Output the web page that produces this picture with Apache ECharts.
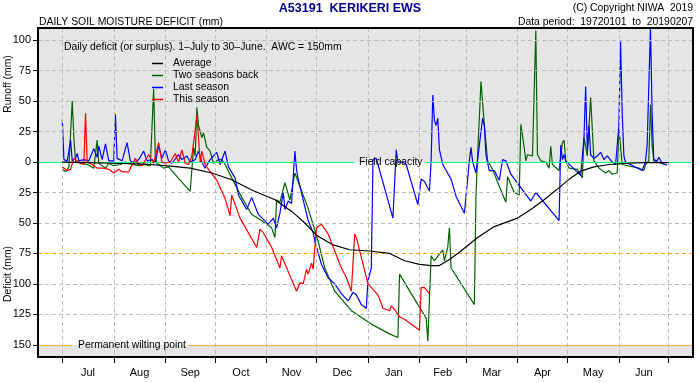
<!DOCTYPE html>
<html><head><meta charset="utf-8">
<script src="https://cdn.jsdelivr.net/npm/echarts@6/dist/echarts.min.js"></script>
<style>html,body{margin:0;padding:0;background:#fff}#c{width:700px;height:383px}</style>
</head><body><div id="c"></div>
<script>
// ---- data (day index from 1 July; mm deficit positive, runoff negative) ----
const monthLabels = ['Jul','Aug','Sep','Oct','Nov','Dec','Jan','Feb','Mar','Apr','May','Jun'];
const monthStarts = [0,31,62,92,123,153,184,215,243,274,304,335,365];
const monthMids = [15.5,46.5,77,107.5,138,168.5,199.5,229,258.5,289,319.5,350];
const yTicks = [-100,-75,-50,-25,0,25,50,75,100,125,150];
const gridLevels = [-100,-75,-50,-25,25,50,100,125];

const average = [[0,0],[15,0.5],[30,1],[45,1.5],[52,2],[62,3],[77,5],[90,9],[102,14.5],[114,23],[128,31],[139,41.5],[146,50],[153,60],[163,68],[173,72],[185,73],[197,75],[206,81],[215,84],[222,85],[227,85],[233,80],[240,73],[250,62],[260,53],[274,46],[282,39],[290,31],[300,20],[306,13],[312,7.5],[320,4],[329,2],[340,1],[350,0.5],[365,0.5]];

const twoSeasonsBack = [[0,6],[2,8],[4,4],[6,-50],[7,-20],[8,0],[11,1],[15,2],[19,5],[21,-18],[22,1],[26,5],[28,1],[31,3],[35,2],[38,0],[42,2],[46,3],[49,2],[53,3],[55,-60],[56,-5],[57,1],[61,5],[64,4],[66,7],[69,12],[77,24],[79,-12],[80,-5],[81,-45],[82,-30],[84,-20],[85,-24],[87,-12],[89,-9],[91,1],[94,-2],[96,-2],[98,2],[102,13],[108,29],[114,43],[120,48],[126,54],[128,62],[129,31],[131,33],[134,17],[137,31],[140,9],[148,38],[154,65],[158,87],[164,106],[174,122],[186,133],[197,141],[202,144],[203,92],[214,117],[219,128],[220,147],[222,77],[224,81],[229,72],[230,81],[232,70],[233,54],[234,87],[248,117],[249,27],[250,-6],[252,-66],[254,-31],[256,-1],[259,6],[263,20],[267,33],[268,12],[272,25],[275,27],[276,-31],[278,-12],[279,-1],[280,-6],[283,-5],[285,-108],[286,-6],[288,-1],[291,0],[293,5],[294,-13],[295,2],[299,7],[301,-16],[302,-18],[303,-1],[305,5],[310,6],[313,13],[314,-20],[316,-5],[318,-53],[320,-1],[323,5],[327,9],[329,7],[331,10],[334,9],[335,-28],[337,2],[347,5],[350,7],[351,2],[353,-1],[354,-47],[355,-14],[356,-1],[363,2]];

const lastSeason = [[0,-35],[1,-2],[3,-1],[5,-18],[6,-1],[8,-3],[9,-7],[10,-1],[13,-2],[16,-1],[19,-11],[21,-4],[22,-13],[24,-2],[26,-15],[28,-1],[31,-1],[32,-39],[33,-3],[36,-1],[39,-16],[41,-1],[43,1],[46,-2],[49,-9],[51,-1],[54,-2],[56,0],[58,-13],[60,-3],[62,-10],[64,-1],[66,1],[70,-6],[72,-2],[75,-5],[77,0],[80,-2],[82,-9],[84,0],[86,5],[89,-2],[91,-5],[93,-8],[95,2],[98,-9],[100,4],[104,13],[106,27],[111,39],[114,29],[118,43],[124,51],[127,46],[129,54],[131,42],[133,25],[134,39],[136,32],[138,34],[140,-9],[141,6],[142,14],[145,31],[148,48],[151,58],[152,65],[156,84],[160,95],[164,100],[168,108],[172,114],[175,107],[177,109],[180,117],[183,120],[184,97],[186,87],[187,-2],[189,-3],[199,46],[201,-10],[202,0],[205,0],[207,2],[214,35],[216,14],[218,16],[221,24],[222,-1],[223,-55],[224,-34],[225,-30],[226,-36],[227,-10],[229,2],[234,14],[237,28],[242,42],[245,-1],[246,-12],[247,0],[249,9],[253,-36],[254,-30],[255,-6],[257,7],[260,7],[263,15],[265,-2],[267,-1],[270,10],[282,32],[285,25],[299,48],[300,-14],[301,-2],[302,-6],[303,-1],[312,11],[314,-20],[315,-62],[316,-10],[317,-30],[318,-6],[320,-3],[322,-5],[324,-8],[326,-2],[328,-5],[331,0],[333,2],[335,-30],[336,-99],[337,-40],[338,-5],[339,0],[349,7],[351,0],[352,-14],[354,-110],[355,-40],[356,-2],[358,-1],[359,-4],[361,1],[364,2.5]];

const thisSeason = [[0,4],[3,7],[5,6],[7,-3],[9,-1],[11,1],[13,2],[14,-40],[15,0],[18,2],[21,5],[25,5],[28,6],[31,9],[34,6],[36,8],[40,8],[44,-3],[46,2],[48,3],[52,-6],[55,1],[58,-16],[60,0],[62,1],[65,0],[68,-7],[70,0],[72,-10],[74,1],[76,2],[78,-5],[80,-26],[81,-39],[82,-20],[83,0],[84,-9],[86,2],[88,6],[93,15],[98,30],[101,44],[102,27],[107,46],[117,70],[119,55],[121,58],[126,70],[131,87],[132,77],[141,106],[143,99],[145,100],[147,88],[148,92],[150,83],[151,88],[153,54],[156,51],[160,59],[168,87],[171,95],[174,106],[176,59],[177,62],[184,100],[190,109],[193,120],[197,122],[198,118],[200,121],[203,127],[206,129],[215,138],[216,103],[218,103],[221,108]];

// ---- chart ----
const FONT = "'Liberation Sans', Arial, sans-serif";
const XMIN = -14.6, XMAX = 379.6, YMIN = -110, YMAX = 160;
const chart = echarts.init(document.getElementById('c'), null, {renderer:'canvas'});

const gridLineStyle = {color:'#bbbbbb', type:[4,3], width:1};
const bgMarkLines = [];
gridLevels.forEach(v => bgMarkLines.push({yAxis:v, lineStyle:gridLineStyle}));
monthStarts.forEach(v => bgMarkLines.push({xAxis:v, lineStyle:gridLineStyle}));
bgMarkLines.push({yAxis:75, lineStyle:{color:'#ffa500', type:[4,3], width:1}});
bgMarkLines.push([{coord:[XMIN,0], lineStyle:{color:'#00ff7f', type:'solid', width:1}},{coord:[175.9,0]}]);
bgMarkLines.push([{coord:[218.6,0], lineStyle:{color:'#00ff7f', type:'solid', width:1}},{coord:[XMAX,0]}]);
bgMarkLines.push([{coord:[XMIN,150], lineStyle:{color:'#f5b342', type:'solid', width:1}},{coord:[6,150]}]);
bgMarkLines.push([{coord:[76.2,150], lineStyle:{color:'#f5b342', type:'solid', width:1}},{coord:[XMAX,150]}]);

function lineSeries(name, data, color, z){
  return {name, type:'line', data, showSymbol:false, symbol:'none', z,
    lineStyle:{color, width:1.2}, itemStyle:{color}, animation:false, silent:true};
}

const F = "10.4px " + FONT;
chart.setOption({
  animation:false,
  backgroundColor:'#ffffff',
  textStyle:{fontFamily:FONT},
  grid:{left:38, right:7, top:28, bottom:26, containLabel:false},
  xAxis:{type:'value', min:XMIN, max:XMAX,
    axisLine:{show:false, onZero:false},
    splitLine:{show:false},
    axisTick:{show:true, customValues:monthStarts, length:6, inside:false, lineStyle:{color:'#000', width:1}},
    axisLabel:{customValues:monthMids, formatter:(v)=>monthLabels[monthMids.indexOf(v)] || '', color:'#000', fontSize:11, fontFamily:FONT, margin:10}
  },
  yAxis:{type:'value', inverse:true, min:YMIN, max:YMAX,
    axisLine:{show:false, onZero:false},
    splitLine:{show:false},
    axisTick:{show:true, customValues:yTicks, length:5, lineStyle:{color:'#000', width:1}},
    axisLabel:{customValues:yTicks, formatter:(v)=>String(Math.abs(v)), color:'#000', fontSize:11, fontFamily:FONT, margin:7}
  },
  series:[
    {name:'bg', type:'line', data:[], z:1, silent:true, animation:false,
      markArea:{silent:true, itemStyle:{color:'#e5e5e5'}, data:[
        [{yAxis:YMIN},{yAxis:0}],
        [{yAxis:150},{yAxis:YMAX}]
      ]},
      markLine:{silent:true, symbol:['none','none'], label:{show:false}, animation:false, data:bgMarkLines}
    },
    lineSeries('Two seasons back', twoSeasonsBack, '#006400', 3),
    lineSeries('Last season', lastSeason, '#0000ff', 4),
    lineSeries('This season', thisSeason, '#ff0000', 5),
    lineSeries('Average', average, '#000000', 6)
  ],
  graphic:[
    {type:'rect', z:100, silent:true, shape:{x:38, y:28, width:655, height:329}, style:{fill:null, stroke:'#000', lineWidth:2}},
    {type:'text', z:100, x:350, y:9, style:{text:'A53191  KERIKERI EWS', fill:'#00008b', font:"bold 12.5px "+FONT, textAlign:'center', textVerticalAlign:'middle'}},
    {type:'text', z:100, x:39, y:22.5, style:{text:'DAILY SOIL MOISTURE DEFICIT (mm)', fill:'#000', font:F, textAlign:'left', textVerticalAlign:'middle'}},
    {type:'text', z:100, x:693, y:8, style:{text:'(C) Copyright NIWA  2019', fill:'#000', font:F, textAlign:'right', textVerticalAlign:'middle'}},
    {type:'text', z:100, x:693, y:22.5, style:{text:'Data period:  19720101  to  20190207', fill:'#000', font:F, textAlign:'right', textVerticalAlign:'middle'}},
    {type:'text', z:100, x:64, y:47.5, style:{text:'Daily deficit (or surplus). 1\u2013July to 30\u2013June.  AWC = 150mm', fill:'#000', font:F, textAlign:'left', textVerticalAlign:'middle'}},
    {type:'line', z:100, shape:{x1:152, y1:63.5, x2:163, y2:63.5}, style:{stroke:'#000', lineWidth:1.5}},
    {type:'line', z:100, shape:{x1:152, y1:75.5, x2:163, y2:75.5}, style:{stroke:'#006400', lineWidth:1.5}},
    {type:'line', z:100, shape:{x1:152, y1:87.5, x2:163, y2:87.5}, style:{stroke:'#0000ff', lineWidth:1.5}},
    {type:'line', z:100, shape:{x1:152, y1:99.5, x2:163, y2:99.5}, style:{stroke:'#ff0000', lineWidth:1.5}},
    {type:'text', z:100, x:173, y:63.5, style:{text:'Average', fill:'#000', font:F, textVerticalAlign:'middle'}},
    {type:'text', z:100, x:173, y:75.5, style:{text:'Two seasons back', fill:'#000', font:F, textVerticalAlign:'middle'}},
    {type:'text', z:100, x:173, y:87.5, style:{text:'Last season', fill:'#000', font:F, textVerticalAlign:'middle'}},
    {type:'text', z:100, x:173, y:99.5, style:{text:'This season', fill:'#000', font:F, textVerticalAlign:'middle'}},
    {type:'text', z:100, x:359, y:162, style:{text:'Field capacity', fill:'#000', font:F, textVerticalAlign:'middle'}},
    {type:'text', z:100, x:78, y:345, style:{text:'Permanent wilting point', fill:'#000', font:F, textVerticalAlign:'middle'}},
    {type:'text', z:100, x:8, y:84, rotation:Math.PI/2, style:{text:'Runoff (mm)', fill:'#000', font:F, textAlign:'center', textVerticalAlign:'middle'}},
    {type:'text', z:100, x:8, y:274, rotation:Math.PI/2, style:{text:'Deficit (mm)', fill:'#000', font:F, textAlign:'center', textVerticalAlign:'middle'}}
  ]
});
</script></body></html>
